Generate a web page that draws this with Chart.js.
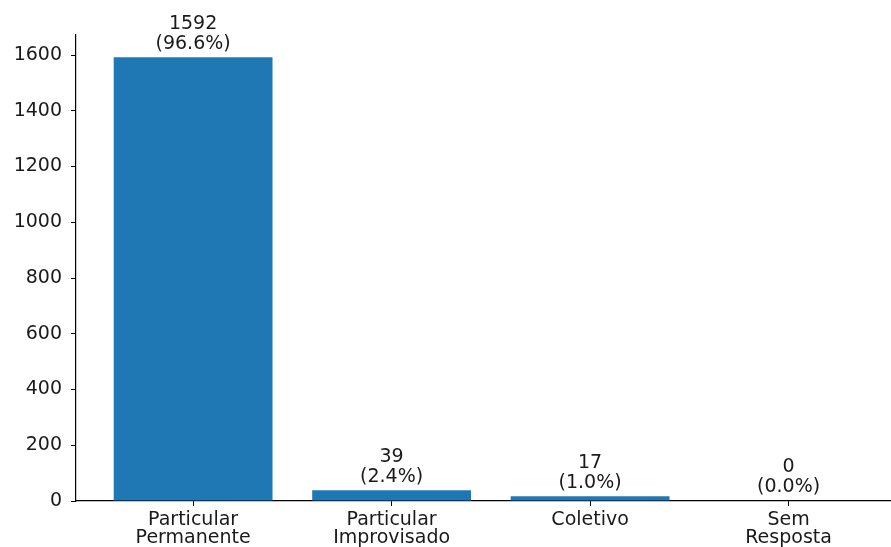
<!DOCTYPE html>
<html>
<head>
<meta charset="utf-8">
<script src="https://cdn.jsdelivr.net/npm/chart.js@4/dist/chart.umd.min.js"></script>
<style>
  body { margin: 0; background: #fff; }
</style>
</head>
<body>
<canvas id="chart" width="891" height="547"></canvas>
<script>
const categories = [['Particular', 'Permanente'], ['Particular', 'Improvisado'], ['Coletivo'], ['Sem', 'Resposta']];
const counts = [1592, 39, 17, 0];
const percents = ['96.6%', '2.4%', '1.0%', '0.0%'];
const yTicks = [0, 200, 400, 600, 800, 1000, 1200, 1400, 1600];

const font = { family: 'DejaVu Sans', size: 19 };

// value + percentage text above each bar
const barLabels = {
  id: 'barLabels',
  afterDatasetsDraw(chart) {
    const ctx = chart.ctx;
    const meta = chart.getDatasetMeta(0);
    ctx.save();
    ctx.font = font.size + 'px ' + font.family;
    ctx.fillStyle = '#1a1a1a';
    ctx.textAlign = 'center';
    ctx.textBaseline = 'bottom';
    meta.data.forEach((bar, i) => {
      ctx.fillText('(' + percents[i] + ')', bar.x, bar.y - 4);
      ctx.fillText(String(counts[i]), bar.x, bar.y - 24);
    });
    ctx.restore();
  }
};

new Chart(document.getElementById('chart'), {
  type: 'bar',
  data: {
    datasets: [{
      data: counts.map((v, i) => ({ x: i, y: v })),
      backgroundColor: '#1f77b4',
      borderWidth: 0,
      categoryPercentage: 1,
      barPercentage: 0.8
    }]
  },
  options: {
    responsive: false,
    animation: false,
    layout: { padding: { top: 35, left: 0, right: 0, bottom: 0 } },
    plugins: { legend: { display: false }, tooltip: { enabled: false } },
    scales: {
      x: {
        type: 'linear',
        offset: false,
        min: -0.59,
        max: 3.516,
        afterBuildTicks: (s) => { s.ticks = [0, 1, 2, 3].map(v => ({ value: v })); },
        afterFit: (s) => { s.height = 46; },
        ticks: {
          callback: (v) => categories[v],
          font: { ...font, lineHeight: 0.95 },
          color: '#1a1a1a',
          padding: 5,
          maxRotation: 0,
          autoSkip: false
        },
        grid: { offset: false, drawOnChartArea: false, tickLength: 5, color: '#000', tickWidth: 1 },
        border: { display: true, color: '#000', width: 1.2 }
      },
      y: {
        min: 0,
        max: 1672,
        afterBuildTicks: (s) => { s.ticks = yTicks.map(v => ({ value: v })); },
        afterFit: (s) => { s.width = 76; },
        ticks: { font: font, color: '#1a1a1a', padding: 9, callback: (v) => String(v) },
        grid: { drawOnChartArea: false, tickLength: 5, color: '#000', tickWidth: 1 },
        border: { display: true, color: '#000', width: 1.2 }
      }
    }
  },
  plugins: [barLabels]
});
</script>
</body>
</html>
